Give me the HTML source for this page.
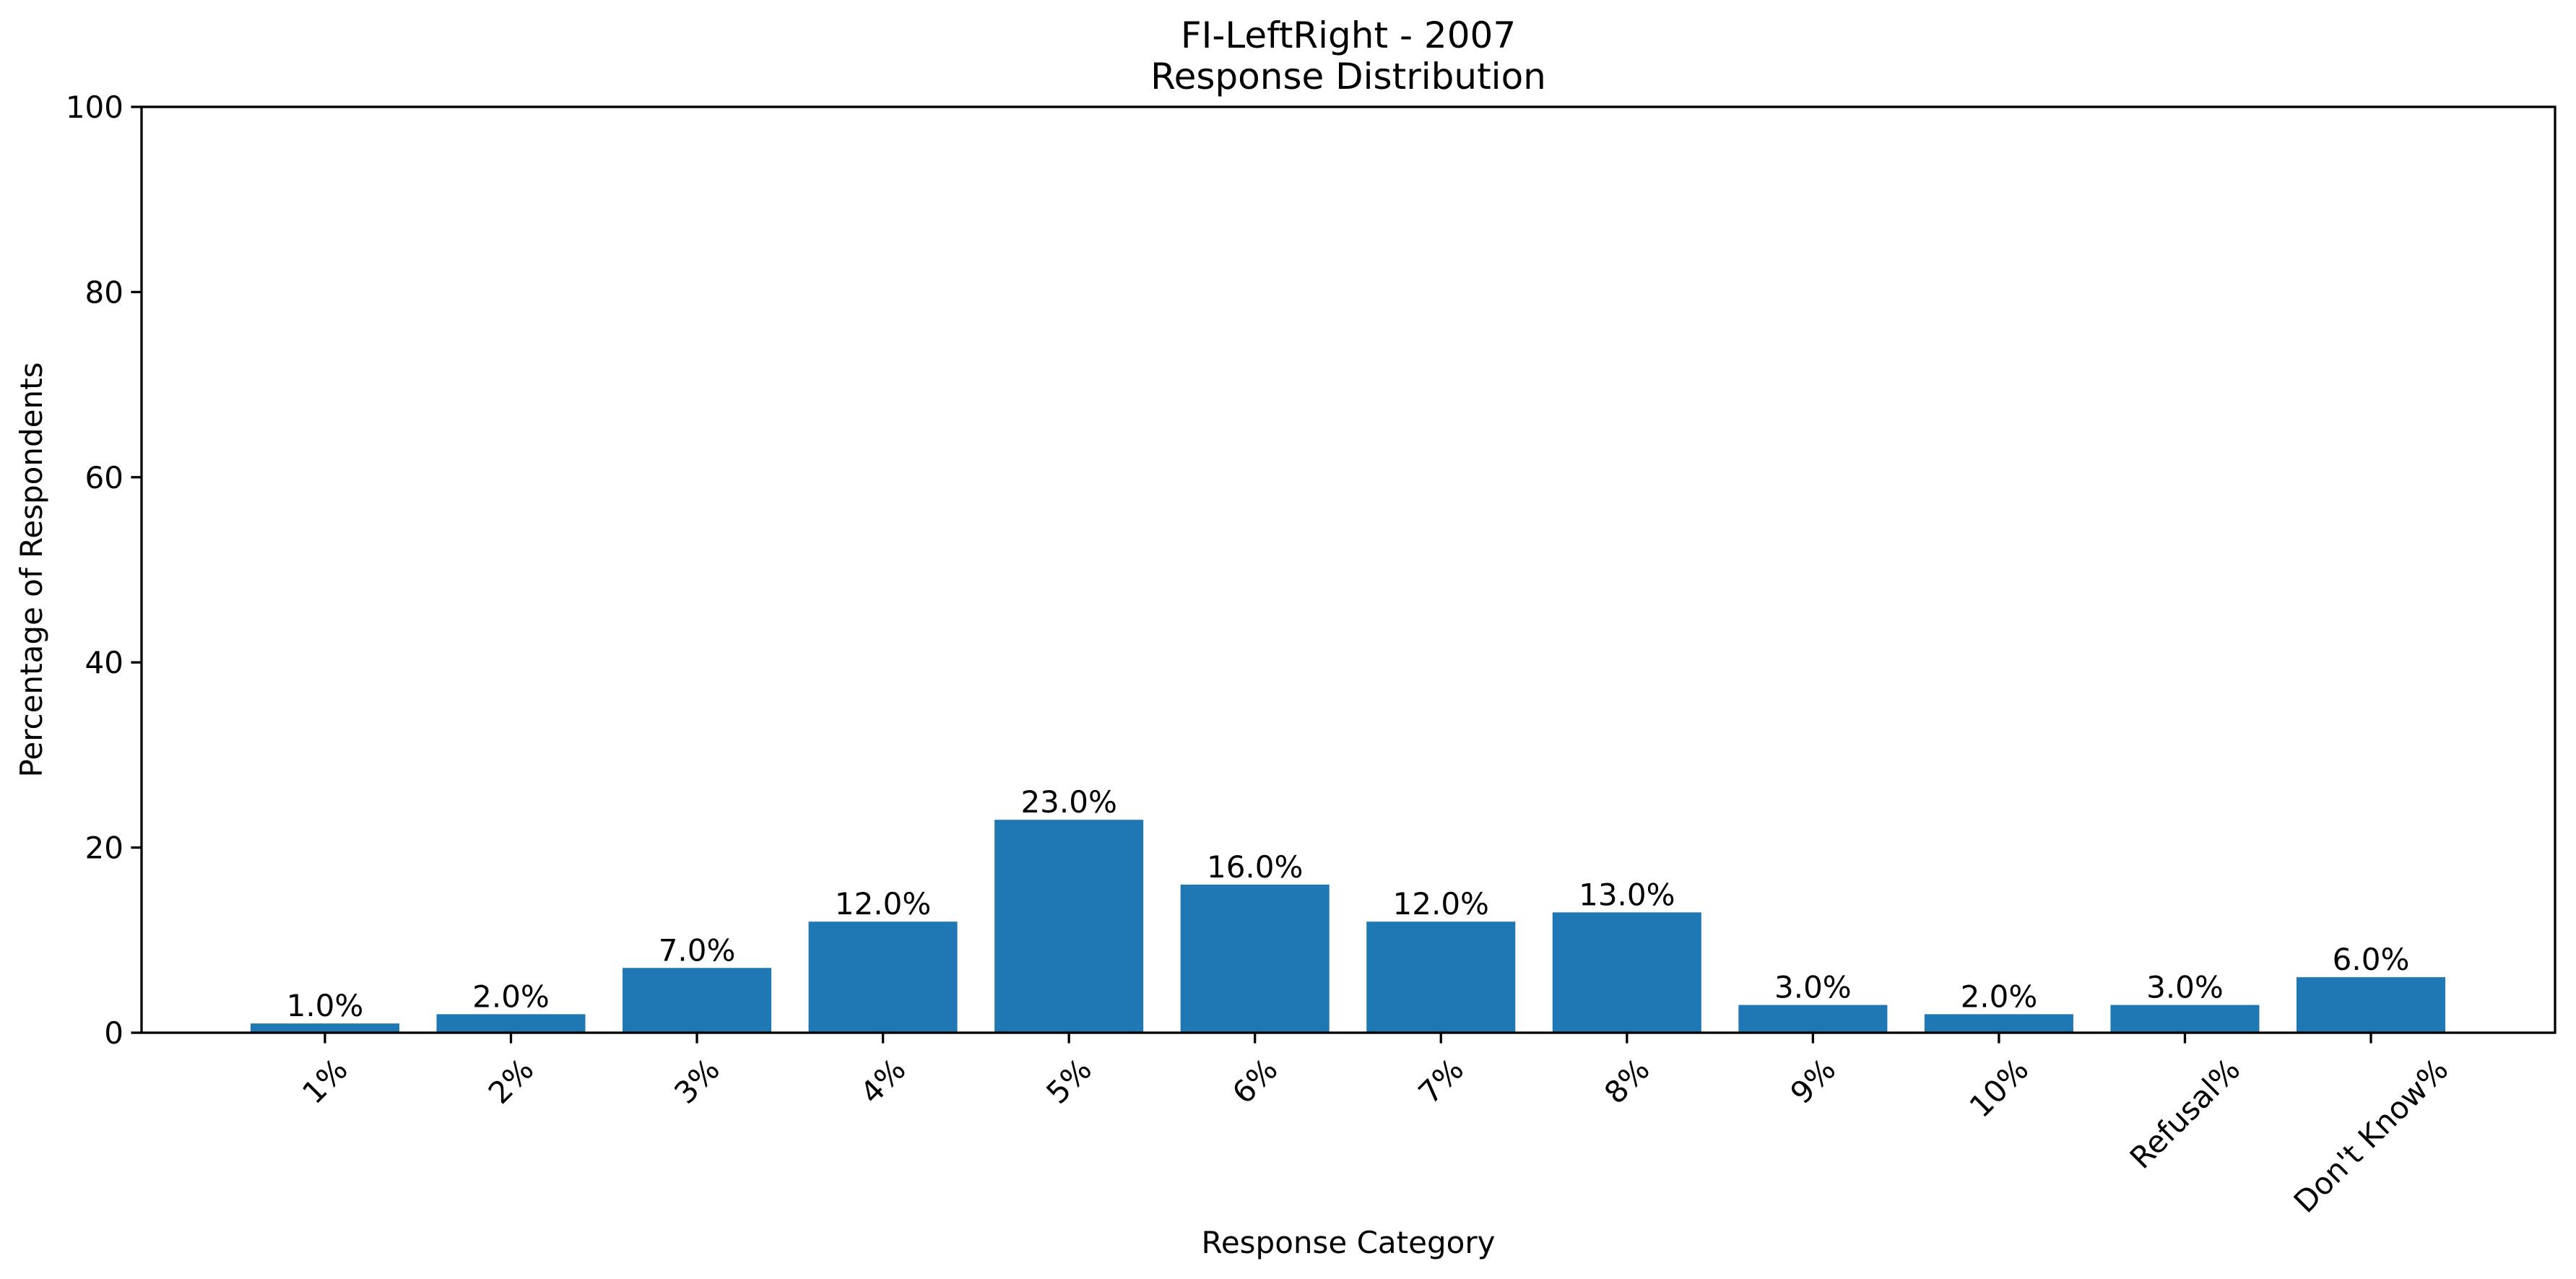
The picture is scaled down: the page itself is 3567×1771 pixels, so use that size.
<!DOCTYPE html>
<html><head><meta charset="utf-8"><style>
html,body{margin:0;padding:0;background:#fff;}
svg{display:block;font-family:"DejaVu Sans","Liberation Sans",sans-serif;}
</style></head><body>
<svg id="chart" width="3567" height="1771" viewBox="0 0 3567 1771">
<rect width="3567" height="1771" fill="#fff"/>
<text x="1867" y="66" font-size="50" text-anchor="middle">FI-LeftRight - 2007</text>
<text x="1867" y="123" font-size="50" text-anchor="middle">Response Distribution</text>
<text x="1867" y="1735" font-size="42" text-anchor="middle">Response Category</text>
<text transform="translate(58,789) rotate(-90)" font-size="42" text-anchor="middle">Percentage of Respondents</text>
<g id="plot"></g>
</svg>
<script>
const categories = ["1%","2%","3%","4%","5%","6%","7%","8%","9%","10%","Refusal%","Don't Know%"];
const values = [1,2,7,12,23,16,12,13,3,2,3,6];
const yTicks = [0,20,40,60,80,100];

const L=196, R=3538, T=148, B=1430;
const xMin=-0.986, xMax=categories.length-1+0.99;
const yMin=0, yMax=100;
const xs = v => L + (v - xMin) / (xMax - xMin) * (R - L);
const ys = v => B - (v - yMin) / (yMax - yMin) * (B - T);
const unit = xs(1) - xs(0);
const NS="http://www.w3.org/2000/svg";
const g=document.getElementById('plot');
function mk(tag, attrs, parent){const e=document.createElementNS(NS,tag);for(const k in attrs)e.setAttribute(k,attrs[k]);(parent||g).appendChild(e);return e;}

values.forEach((v,i)=>{
  const r=mk('rect',{x:xs(i)-unit*0.4,y:ys(v),width:unit*0.8,height:ys(0)-ys(v),fill:'#1f77b4'});
  
  
  const t=mk('text',{x:xs(i),y:ys(v)-10,'font-size':42,'text-anchor':'middle'});
  t.textContent=v.toFixed(1)+'%';
  
  
});

yTicks.forEach(v=>{
  const l=mk('line',{x1:L-14.6,x2:L,y1:ys(v),y2:ys(v),stroke:'#000','stroke-width':3.3});
  
  
  const t=mk('text',{x:L-25,y:ys(v)+15,'font-size':42,'text-anchor':'end'});
  t.textContent=v;
  
  
});

categories.forEach((c,i)=>{
  const x=xs(i);
  const l=mk('line',{x1:x,x2:x,y1:B,y2:B+14.6,stroke:'#000','stroke-width':3.3});
  
  
  const t=mk('text',{'font-size':42,'text-anchor':'middle','dominant-baseline':'central'});
  t.textContent=c;
  
  
  const w=t.getComputedTextLength(), h=42;
  const cy=B+14.6+14+(w+h)/(2*Math.SQRT2);
  t.setAttribute('transform','translate('+x+','+cy+') rotate(-45)');
});

const frame=mk('rect',{x:L,y:T,width:R-L,height:B-T,fill:'none',stroke:'#000','stroke-width':3.3});


</script>
</body></html>
